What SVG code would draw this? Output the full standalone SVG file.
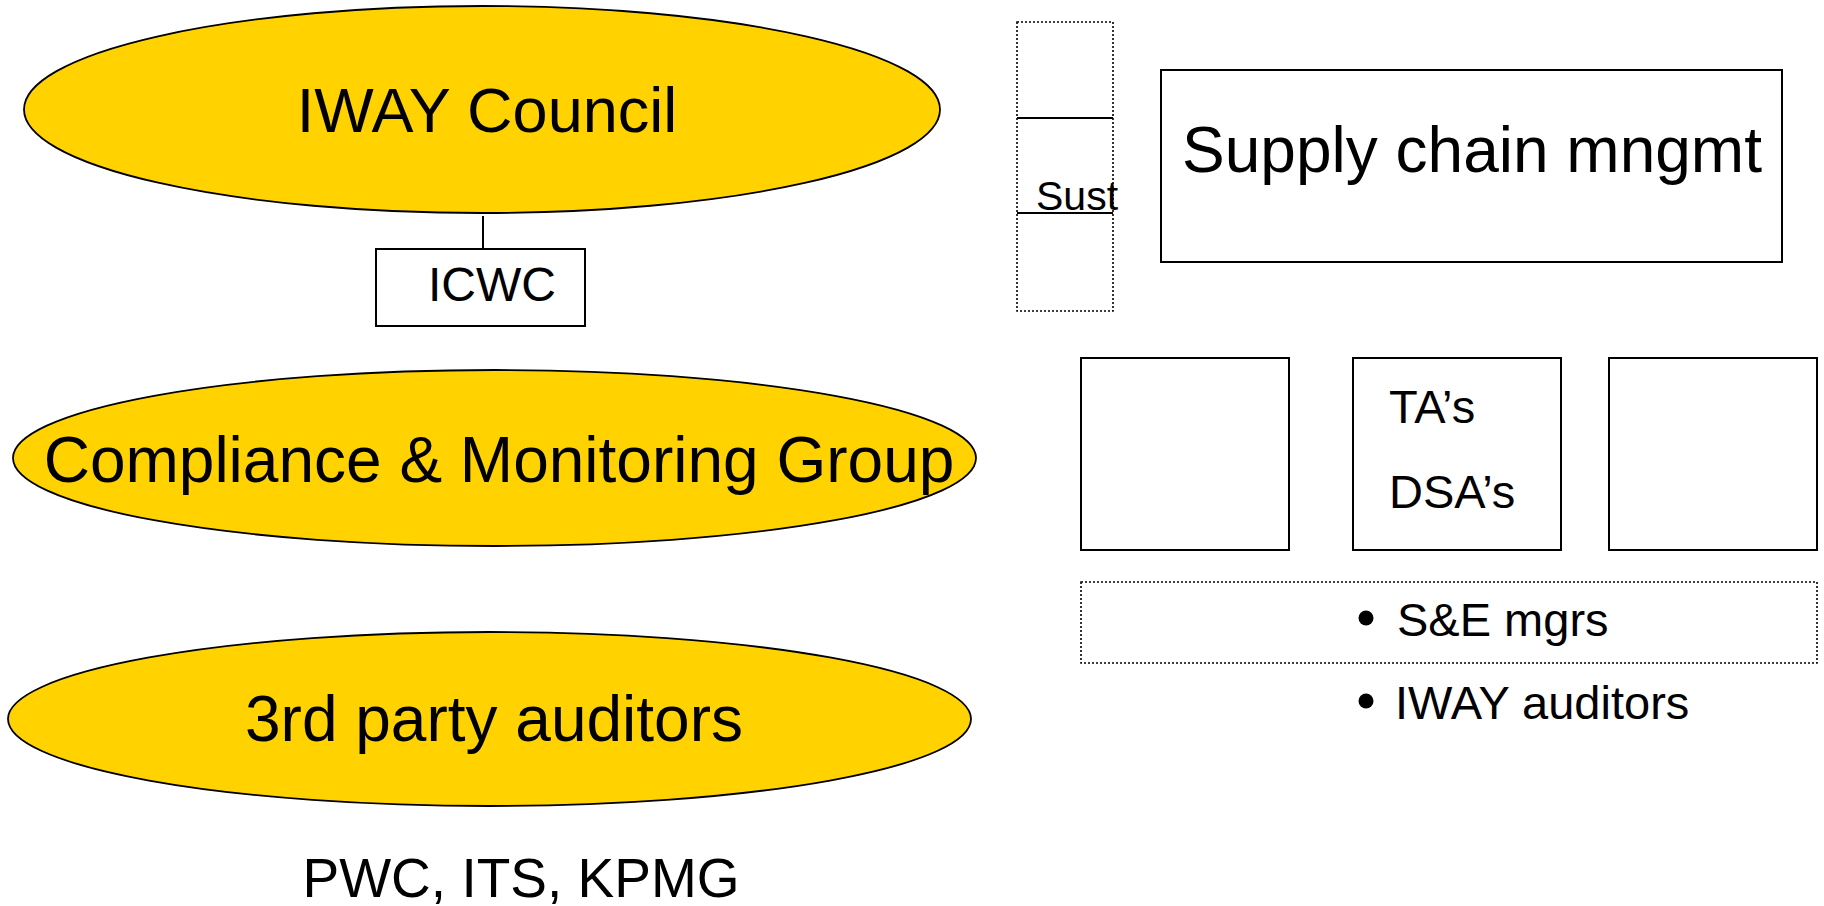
<svg xmlns="http://www.w3.org/2000/svg" width="1824" height="906" viewBox="0 0 1824 906">
<style>
.ell{fill:#FFD200;stroke:#000;stroke-width:1.8}
.box{fill:#fff;stroke:#000;stroke-width:2}
.dot{fill:none;stroke:#000;stroke-width:1.6;stroke-dasharray:2 2}
.sep{stroke:#000;stroke-width:2}
.t{font-family:"Liberation Sans",Arial,sans-serif;fill:#000}
.c{text-anchor:middle}
</style>
<rect width="1824" height="906" fill="#fff"/>
<g id="connectors">
<line x1="483" y1="216" x2="483" y2="249" stroke="#000" stroke-width="2"/>
</g>
<g id="iway-council">
<ellipse class="ell" cx="482" cy="109.5" rx="458" ry="103.5"/>
<text class="t c" x="487" y="132" font-size="63">IWAY Council</text>
</g>
<g id="icwc">
<rect class="box" x="376" y="249" width="209" height="77"/>
<text class="t" x="428" y="301" font-size="48">ICWC</text>
</g>
<g id="compliance">
<ellipse class="ell" cx="494.5" cy="458" rx="481.5" ry="88"/>
<text class="t c" x="499" y="482" font-size="64">Compliance &amp; Monitoring Group</text>
</g>
<g id="third-party">
<ellipse class="ell" cx="489.5" cy="719" rx="481.5" ry="87"/>
<text class="t c" x="494" y="741" font-size="64">3rd party auditors</text>
</g>
<g id="auditors-list">
<text class="t c" x="521" y="897" font-size="55">PWC, ITS, KPMG</text>
</g>
<g id="sust">
<rect class="dot" x="1017" y="22" width="96" height="289"/>
<line class="sep" x1="1017" y1="118" x2="1113" y2="118"/>
<line class="sep" x1="1017" y1="213" x2="1113" y2="213"/>
<text class="t" x="1036" y="210" font-size="41">Sust</text>
</g>
<g id="supply-chain">
<rect class="box" x="1161" y="70" width="621" height="192"/>
<text class="t c" x="1472" y="172" font-size="64">Supply chain mngmt</text>
</g>
<g id="box-left">
<rect class="box" x="1081" y="358" width="208" height="192"/>
</g>
<g id="box-middle">
<rect class="box" x="1353" y="358" width="208" height="192"/>
<text class="t" x="1389" y="423" font-size="47">TA’s</text>
<text class="t" x="1389" y="508" font-size="47">DSA’s</text>
</g>
<g id="box-right">
<rect class="box" x="1609" y="358" width="208" height="192"/>
</g>
<g id="se-mgrs">
<rect class="dot" x="1081" y="582" width="736" height="81"/>
<circle cx="1366" cy="618" r="7.5"/>
<text class="t" x="1397" y="636" font-size="47">S&amp;E mgrs</text>
</g>
<g id="iway-auditors">
<circle cx="1366" cy="701" r="7.5"/>
<text class="t" x="1395" y="719" font-size="47">IWAY auditors</text>
</g>
</svg>
